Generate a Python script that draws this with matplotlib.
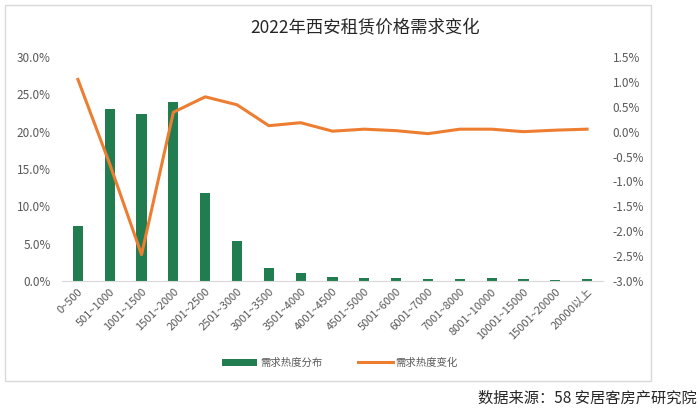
import matplotlib
matplotlib.use("Agg")
import matplotlib.pyplot as plt
from matplotlib.patches import Rectangle
from matplotlib.ticker import FuncFormatter, MultipleLocator

plt.rcParams['font.family'] = ['Noto Sans CJK SC', 'DejaVu Sans']

# price bands (yuan / month)
categories = ["0~500", "501~1000", "1001~1500", "1501~2000", "2001~2500", "2501~3000",
              "3001~3500", "3501~4000", "4001~4500", "4501~5000", "5001~6000", "6001~7000",
              "7001~8000", "8001~10000", "10001~15000", "15001~20000", "20000以上"]
# demand share, %
demand_share = [7.3, 23.1, 22.4, 24.0, 11.8, 5.4, 1.7, 1.03, 0.54, 0.45, 0.45,
                0.22, 0.22, 0.35, 0.22, 0.15, 0.22]
# demand change, percentage points
demand_change = [1.05, -0.65, -2.47, 0.39, 0.70, 0.54, 0.12, 0.18, 0.01, 0.05, 0.02,
                 -0.04, 0.05, 0.05, 0.0, 0.03, 0.05]

green = "#217D50"
orange = "#ED7D31"
grey_text = "#595959"

fig = plt.figure(figsize=(7, 4.13), dpi=100)
ax = fig.add_axes([62 / 700, 1 - 281 / 413, 541 / 700, 224 / 413])
ax2 = ax.twinx()

x = list(range(len(categories)))
ax.bar(x, demand_share, width=0.32, color=green, label="需求热度分布", zorder=2)
ax2.plot(x, demand_change, color=orange, linewidth=2.2, label="需求热度变化", zorder=3)

ax.set_xlim(-0.5, len(categories) - 0.5)
ax.set_ylim(0, 30)
ax.yaxis.set_major_locator(MultipleLocator(5))
ax.yaxis.set_major_formatter(FuncFormatter(lambda v, p: f"{v:.1f}%"))
ax2.set_ylim(-3.0, 1.5)
ax2.yaxis.set_major_locator(MultipleLocator(0.5))
ax2.yaxis.set_major_formatter(FuncFormatter(lambda v, p: f"{v:.1f}%"))

ax.set_xticks(x)
ax.set_xticklabels(categories, rotation=45, ha="right", rotation_mode="anchor",
                   fontsize=8, color=grey_text)

for a in (ax, ax2):
    for s in a.spines.values():
        s.set_visible(False)
    a.tick_params(length=0, labelsize=8.5, labelcolor=grey_text)
ax.spines["bottom"].set_visible(True)
ax.spines["bottom"].set_color("#D9D9D9")
ax.tick_params(axis="y", pad=8)
ax.tick_params(axis="x", pad=4, labelsize=8)
ax2.tick_params(axis="y", pad=7)

fig.text(365 / 700, 1 - 28 / 413, "2022年西安租赁价格需求变化", ha="center", va="center",
         fontsize=12.5, color="#262626")

h1, l1 = ax.get_legend_handles_labels()
h2, l2 = ax2.get_legend_handles_labels()
fig.legend(h1 + h2, l1 + l2, loc="center", bbox_to_anchor=(340 / 700, 1 - 363 / 413),
           ncol=2, frameon=False, fontsize=7.5, handlelength=3.4, handletextpad=0.25,
           columnspacing=3.4, labelcolor=grey_text)

fig.patches.append(Rectangle((5 / 700, 1 - 381 / 413), 646 / 700, 376 / 413,
                             transform=fig.transFigure, fill=False,
                             edgecolor="#D9D9D9", linewidth=1))

fig.text(697 / 700, 1 - 398 / 413, "数据来源：58 安居客房产研究院", ha="right", va="center",
         fontsize=11, color="#262626")

fig.savefig("out.png", dpi=100)
